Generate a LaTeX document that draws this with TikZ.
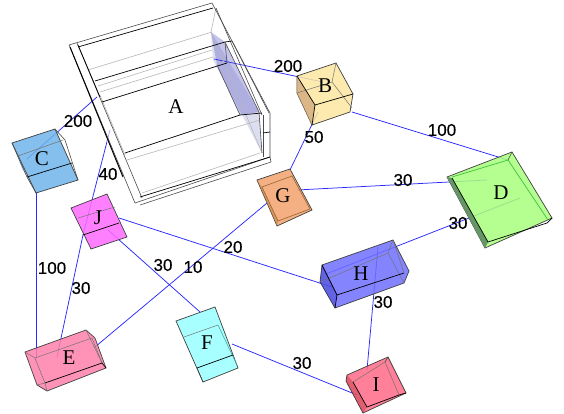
\documentclass[tikz,border=0pt]{standalone}
\usepackage{fontspec}
\setmainfont{Liberation Serif}
\newfontfamily\numfont[FakeBold=0.35]{Liberation Sans}
\usetikzlibrary{calc}

\definecolor{linkblue}{HTML}{2A2AFF}
\definecolor{colB}{HTML}{FDE7A2}
\definecolor{colC}{HTML}{6FB4EB}
\definecolor{colD}{HTML}{A8FF7C}
\definecolor{colE}{HTML}{FF81AB}
\definecolor{colF}{HTML}{99FFFF}
\definecolor{colG}{HTML}{F3A36E}
\definecolor{colH}{HTML}{6F6FFF}
\definecolor{colI}{HTML}{FF6A87}
\definecolor{colJ}{HTML}{FF6AFF}

\tikzset{
  link/.style={linkblue,line width=.75pt},
  weight/.style={inner sep=0pt,font=\numfont\fontsize{17}{17}\selectfont,text=black},
  letter/.style={inner sep=0pt,font=\fontsize{21}{21}\selectfont,text=black},
  shell/.style={draw=black!75,line width=.7pt,fill opacity=.85},
  edge/.style={black,line width=.7pt},
  back/.style={black!55,line width=.5pt},
  ghost/.style={black!28,line width=.6pt},
  wire/.style={black!70,line width=.6pt}
}

\begin{document}
\begin{tikzpicture}[x=1pt,y=-1pt]
  \useasboundingbox (0,0) rectangle (564,414);
  \fill[white] (0,0) rectangle (564,414);

  % ends of the connectors
  \coordinate (A1) at (214,59);
  \coordinate (A2) at (97,97);
  \coordinate (A3) at (110,130);
  \coordinate (B1) at (323,82);
  \coordinate (B2) at (318,112);
  \coordinate (B3) at (352,112);
  \coordinate (C1) at (27,159);
  \coordinate (C2) at (36,193);
  \coordinate (D1) at (508,160);
  \coordinate (D2) at (487,180);
  \coordinate (D3) at (520,198);
  \coordinate (E1) at (36,358);
  \coordinate (E2) at (57,357);
  \coordinate (E3) at (95,347);
  \coordinate (F1) at (200,312);
  \coordinate (F2) at (232,344);
  \coordinate (G1) at (290,170);
  \coordinate (G2) at (297,190);
  \coordinate (G3) at (267,203);
  \coordinate (H1) at (326,274);
  \coordinate (H2) at (378,247);
  \coordinate (H3) at (332,287);
  \coordinate (I1) at (367,370);
  \coordinate (I2) at (357,395);
  \coordinate (J1) at (83,235);
  \coordinate (J2) at (119,218);
  \coordinate (J3) at (108,230);

  \draw[link] (A1) -- (B1);
  \draw[link] (A2) -- (C1);
  \draw[link] (A3) -- (J1);
  \draw[link] (B2) -- (G1);
  \draw[link] (B3) -- (D1);
  \draw[link] (C2) -- (E1);
  \draw[link] (J1) -- (E2);
  \draw[link] (G2) -- (D2);
  \draw[link] (G3) -- (E3);
  \draw[link] (D3) -- (H1);
  \draw[link] (H2) -- (I1);
  \draw[link] (H3) -- (J2);
  \draw[link] (J3) -- (F1);
  \draw[link] (F2) -- (I2);

  % A
  \fill[fill=white,fill opacity=.6] (100,97) -- (110,120) -- (125,170) -- (118,170) -- (92,102) -- cycle;
  \fill[blue!40!gray,opacity=.18] (211,32) -- (259,112) -- (262,153) -- (213,60) -- cycle;
  \fill[blue!50!gray,opacity=.3] (211,32) -- (225,42) -- (259,112) -- (240,115) -- (217,65) -- cycle;
  \draw[ghost] (88,70) -- (212,32);
  \draw[ghost] (100,92) -- (213,57);
  \draw[ghost] (98,86) -- (212,50);
  \draw[ghost] (127,160) -- (260,120);
  \draw[ghost] (142,193) -- (260,153);
  \draw[ghost] (216,8) -- (211,32) -- (262,153);
  \draw[ghost] (100,95) -- (125,155);
  \draw[wire] (232,41) -- (269,113);
  \draw[wire] (216,8) -- (262,115);
  \draw[wire] (259,112) -- (262,153);
  \draw[wire] (69,45) -- (212,3) -- (270,113) -- (270,157) -- (135,203) -- (70,47) -- cycle;
  \draw[wire] (77,43) -- (142,198);
  \draw[wire] (140,205) -- (271,162) -- (270,157);
  \draw[edge] (78,47) -- (213,8);
  \draw[edge] (95,81) -- (225,42) -- (232,41);
  \draw[edge] (102,102) -- (227,63);
  \draw[edge] (125,153) -- (240,115) -- (262,113);
  \draw[edge] (140,197) -- (270,157);
  \draw[edge,line width=1pt] (70,47) -- (123,177);
  \draw[edge] (78,45) -- (100,97);
  \draw[wire] (263,115) -- (263,157);
  \draw[edge] (263,133) -- (270,132);
  \draw[wire] (225,42) -- (227,63);
  \draw[wire] (225,42) -- (259,112);
  \draw[wire] (217,65) -- (240,115);
  \node[letter] (A) at (176,107) {A};

  % B
  \draw[shell,fill=colB] (297,76) -- (336,63) -- (353,94) -- (350,112) -- (312,125) -- (297,93) -- cycle;
  \fill[brown!70!white,opacity=.75] (297,76) -- (315,105) -- (312,125) -- (297,93) -- cycle;
  \draw[back] (297,93) -- (332,82) -- (336,63);
  \draw[back] (332,82) -- (352,108);
  \draw[edge] (297,76) -- (315,105) -- (353,94);
  \draw[edge] (315,105) -- (312,125);
  \node[letter] (B) at (325,86) {B};

  % C
  \draw[shell,fill=colC] (12,143) -- (55,129) -- (78,180) -- (36,193) -- cycle;
  \fill[colC!80!black,opacity=.7] (12,143) -- (27,177) -- (36,193) -- (22,168) -- cycle;
  \draw[back] (18,156) -- (63,140);
  \draw[edge] (27,177) -- (72,163);
  \draw[wire] (12,143) -- (27,177) -- (36,193);
  \draw[wire] (55,129) -- (65,140) -- (78,180);
  \node[letter] (C) at (42,159) {C};

  % D
  \draw[shell,fill=colD] (447,177) -- (512,152) -- (552,218) -- (485,248) -- cycle;
  \fill[fill=black!5!green!20!gray] (447,177) -- (452,178) -- (488,242) -- (485,248) -- cycle;
  \draw[green!50!gray,line width=.7pt] (452,177) -- (508,160) -- (548,220);
  \draw[wire] (508,160) -- (512,152);
  \draw[edge] (452,178) -- (488,242) -- (547,223) -- (552,218);
  \node[letter] (D) at (501,193) {D};

  % E
  \draw[shell,fill=colE] (25,352) -- (86,330) -- (95,338) -- (106,368) -- (47,391) -- (37,385) -- cycle;
  \draw[back] (35,358) -- (92,338) -- (102,363);
  \draw[back] (35,358) -- (45,383);
  \draw[back] (86,330) -- (102,363);
  \draw[edge] (45,383) -- (102,363) -- (106,368);
  \draw[back] (25,352) -- (35,358);
  \draw[back] (37,385) -- (45,383) -- (47,391);
  \node[letter] (E) at (69,358) {E};

  % F
  \draw[shell,fill=colF] (176,321) -- (215,307) -- (238,368) -- (203,382) -- cycle;
  \draw[back] (184,337) -- (218,325);
  \draw[teal!70,line width=.6pt] (218,325) -- (237,365);
  \draw[edge] (197,368) -- (233,355);
  \draw[wire] (197,368) -- (203,382);
  \node[letter] (F) at (207,343) {F};

  % G
  \draw[shell,fill=colG] (257,180) -- (290,169) -- (312,210) -- (277,226) -- cycle;
  \fill[brown,opacity=.55] (257,180) -- (262,187) -- (278,221) -- (277,226) -- cycle;
  \draw[brown!80!black,line width=.6pt] (262,187) -- (292,176);
  \draw[brown!80!black,line width=.6pt] (278,221) -- (310,209);
  \draw[brown!80!black,line width=.6pt] (262,187) -- (278,221);
  \draw[brown!80!black,line width=.6pt] (292,176) -- (310,209);
  \node[letter] (G) at (283,196) {G};

  % H
  \draw[shell,fill=colH] (322,265) -- (393,240) -- (409,271) -- (404,283) -- (335,308) -- (320,282) -- cycle;
  \fill[blue!60!black,opacity=.25] (322,265) -- (337,295) -- (335,308) -- (320,282) -- cycle;
  \draw[back] (320,282) -- (388,253) -- (393,240);
  \draw[back] (388,253) -- (404,283);
  \draw[edge] (322,265) -- (337,295) -- (404,273);
  \draw[back] (404,273) -- (393,240);
  \draw[edge] (337,295) -- (335,308);
  \node[letter] (H) at (361,274) {H};

  % I
  \draw[shell,fill=colI] (347,375) -- (388,357) -- (406,393) -- (363,413) -- (346,381) -- cycle;
  \fill[red!50!black,opacity=.25] (347,375) -- (353,382) -- (367,407) -- (363,413) -- (346,381) -- cycle;
  \draw[back] (353,382) -- (385,362) -- (399,395);
  \draw[wire] (385,362) -- (388,357);
  \draw[edge] (353,382) -- (367,407) -- (399,395) -- (406,393);
  \node[letter] (I) at (376,385) {I};

  % J
  \draw[shell,fill=colJ] (71,208) -- (107,194) -- (127,237) -- (91,249) -- cycle;
  \draw[back] (78,218) -- (115,207);
  \draw[edge] (83,235) -- (119,223);
  \node[letter] (J) at (98,218) {J};

  % weights
  \node[weight] (wAB) at (288,66) {200};
  \node[weight] (wAC) at (78,121) {200};
  \node[weight] (wAJ) at (108,174) {40};
  \node[weight] (wBG) at (314,137) {50};
  \node[weight] (wBD) at (442,130) {100};
  \node[weight] (wGD) at (403,180) {30};
  \node[weight] (wDH) at (458,223) {30};
  \node[weight] (wCE) at (52,268) {100};
  \node[weight] (wJE) at (81,288) {30};
  \node[weight] (wJF) at (163,265) {30};
  \node[weight] (wGE) at (193,267) {10};
  \node[weight] (wHJ) at (233,247) {20};
  \node[weight] (wHI) at (383,302) {30};
  \node[weight] (wFI) at (302,363) {30};
\end{tikzpicture}
\end{document}
